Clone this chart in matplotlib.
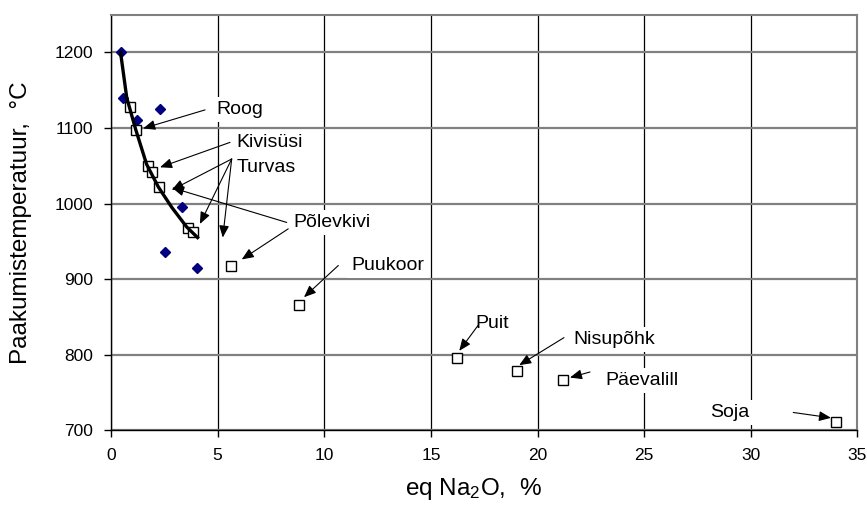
import matplotlib.pyplot as plt

plt.rcParams['font.family'] = ['Liberation Sans', 'DejaVu Sans']
plt.rcParams['mathtext.fontset'] = 'custom'
plt.rcParams['mathtext.rm'] = 'Liberation Sans'
plt.rcParams['mathtext.default'] = 'regular'

# measured points (blue diamonds)
meas_x = [0.45, 0.58, 1.23, 2.3, 3.34, 2.53, 4.05]
meas_y = [1200, 1140, 1111, 1125, 996, 936, 915]

# fuels (open squares)
fuel_x = [0.89, 1.16, 1.75, 1.91, 2.26, 3.62, 3.83, 5.61, 8.83, 16.21, 19.02, 21.18, 33.98]
fuel_y = [1128, 1098, 1050, 1042, 1022, 967, 963, 917, 866, 796, 778, 766, 711]

# trend curve
trend_x = [0.45, 0.74, 1.16, 1.67, 2.22, 2.85, 3.55, 4.06]
trend_y = [1200, 1140, 1098, 1052, 1022, 995, 969, 955]

# labels: name, text position, list of (tail, head) arrows
labels = ['Roog', 'Kivisüsi', 'Turvas', 'Põlevkivi', 'Puukoor', 'Puit', 'Nisupõhk', 'Päevalill', 'Soja']
label_pos = [(4.96, 1124), (5.89, 1081), (5.89, 1048), (8.55, 975), (11.25, 918),
             (17.07, 841), (21.67, 820), (23.16, 766), (28.1, 723)]
label_arrows = [
    [((4.41, 1124), (1.51, 1099.5))],
    [((5.58, 1081), (2.30, 1048))],
    [((5.66, 1059), (2.85, 1018)), ((5.66, 1059), (4.17, 973)), ((5.66, 1059), (5.24, 955))],
    [((8.24, 975), (2.86, 1021)), ((8.31, 966.5), (6.13, 926))],
    [((10.66, 918), (9.05, 876))],
    [((17.22, 839), (16.33, 805))],
    [((21.24, 822.5), (19.14, 786))],
    [((22.46, 777), (21.52, 769.6))],
    [((31.99, 723.4), (33.76, 716.3))],
]

fig = plt.figure(figsize=(8.67, 5.17), dpi=100)
ax = fig.add_axes([0.128, 0.168, 0.861, 0.8035])

ax.plot(meas_x, meas_y, 'D', color='#000080', ms=5.5, zorder=4)
ax.plot(fuel_x, fuel_y, 's', mfc='white', mec='black', mew=1, ms=7, zorder=5)
ax.plot(trend_x, trend_y, '-', color='black', lw=2.4, zorder=6)

for name, pos, arrows in zip(labels, label_pos, label_arrows):
    ax.text(pos[0], pos[1], name, ha='left', va='center', fontsize=14, zorder=3,
            bbox=dict(fc='white', ec='none', pad=3))
    for tail, head in arrows:
        ax.annotate('', xy=head, xytext=tail, zorder=7,
                    arrowprops=dict(arrowstyle='-|>,head_length=0.6,head_width=0.25',
                                    color='black', lw=0.8, mutation_scale=12,
                                    shrinkA=0, shrinkB=0))

ax.set_xlim(0, 35)
ax.set_ylim(700, 1250)
ax.set_xticks(range(0, 36, 5))
ax.set_yticks(range(700, 1201, 100))
ax.tick_params(labelsize=12.5, length=5, width=1, pad=8)

ax.set_axisbelow(True)
ax.yaxis.grid(True, color='#808080', lw=1.6)
ax.xaxis.grid(True, color='black', lw=0.9)

for s in ['top', 'right']:
    ax.spines[s].set_color('#808080')
    ax.spines[s].set_linewidth(1.5)
for s in ['left', 'bottom']:
    ax.spines[s].set_color('black')
    ax.spines[s].set_linewidth(1)

ax.set_ylabel('Paakumistemperatuur,  °C', fontsize=17.5)
ax.set_xlabel(r'eq Na$_2$O,  %', fontsize=17.5)
ax.yaxis.set_label_coords(-0.106, 0.5)
ax.xaxis.set_label_coords(0.486, -0.11)
ax.xaxis.label.set_va('top')

fig.savefig('out.png', dpi=100)
